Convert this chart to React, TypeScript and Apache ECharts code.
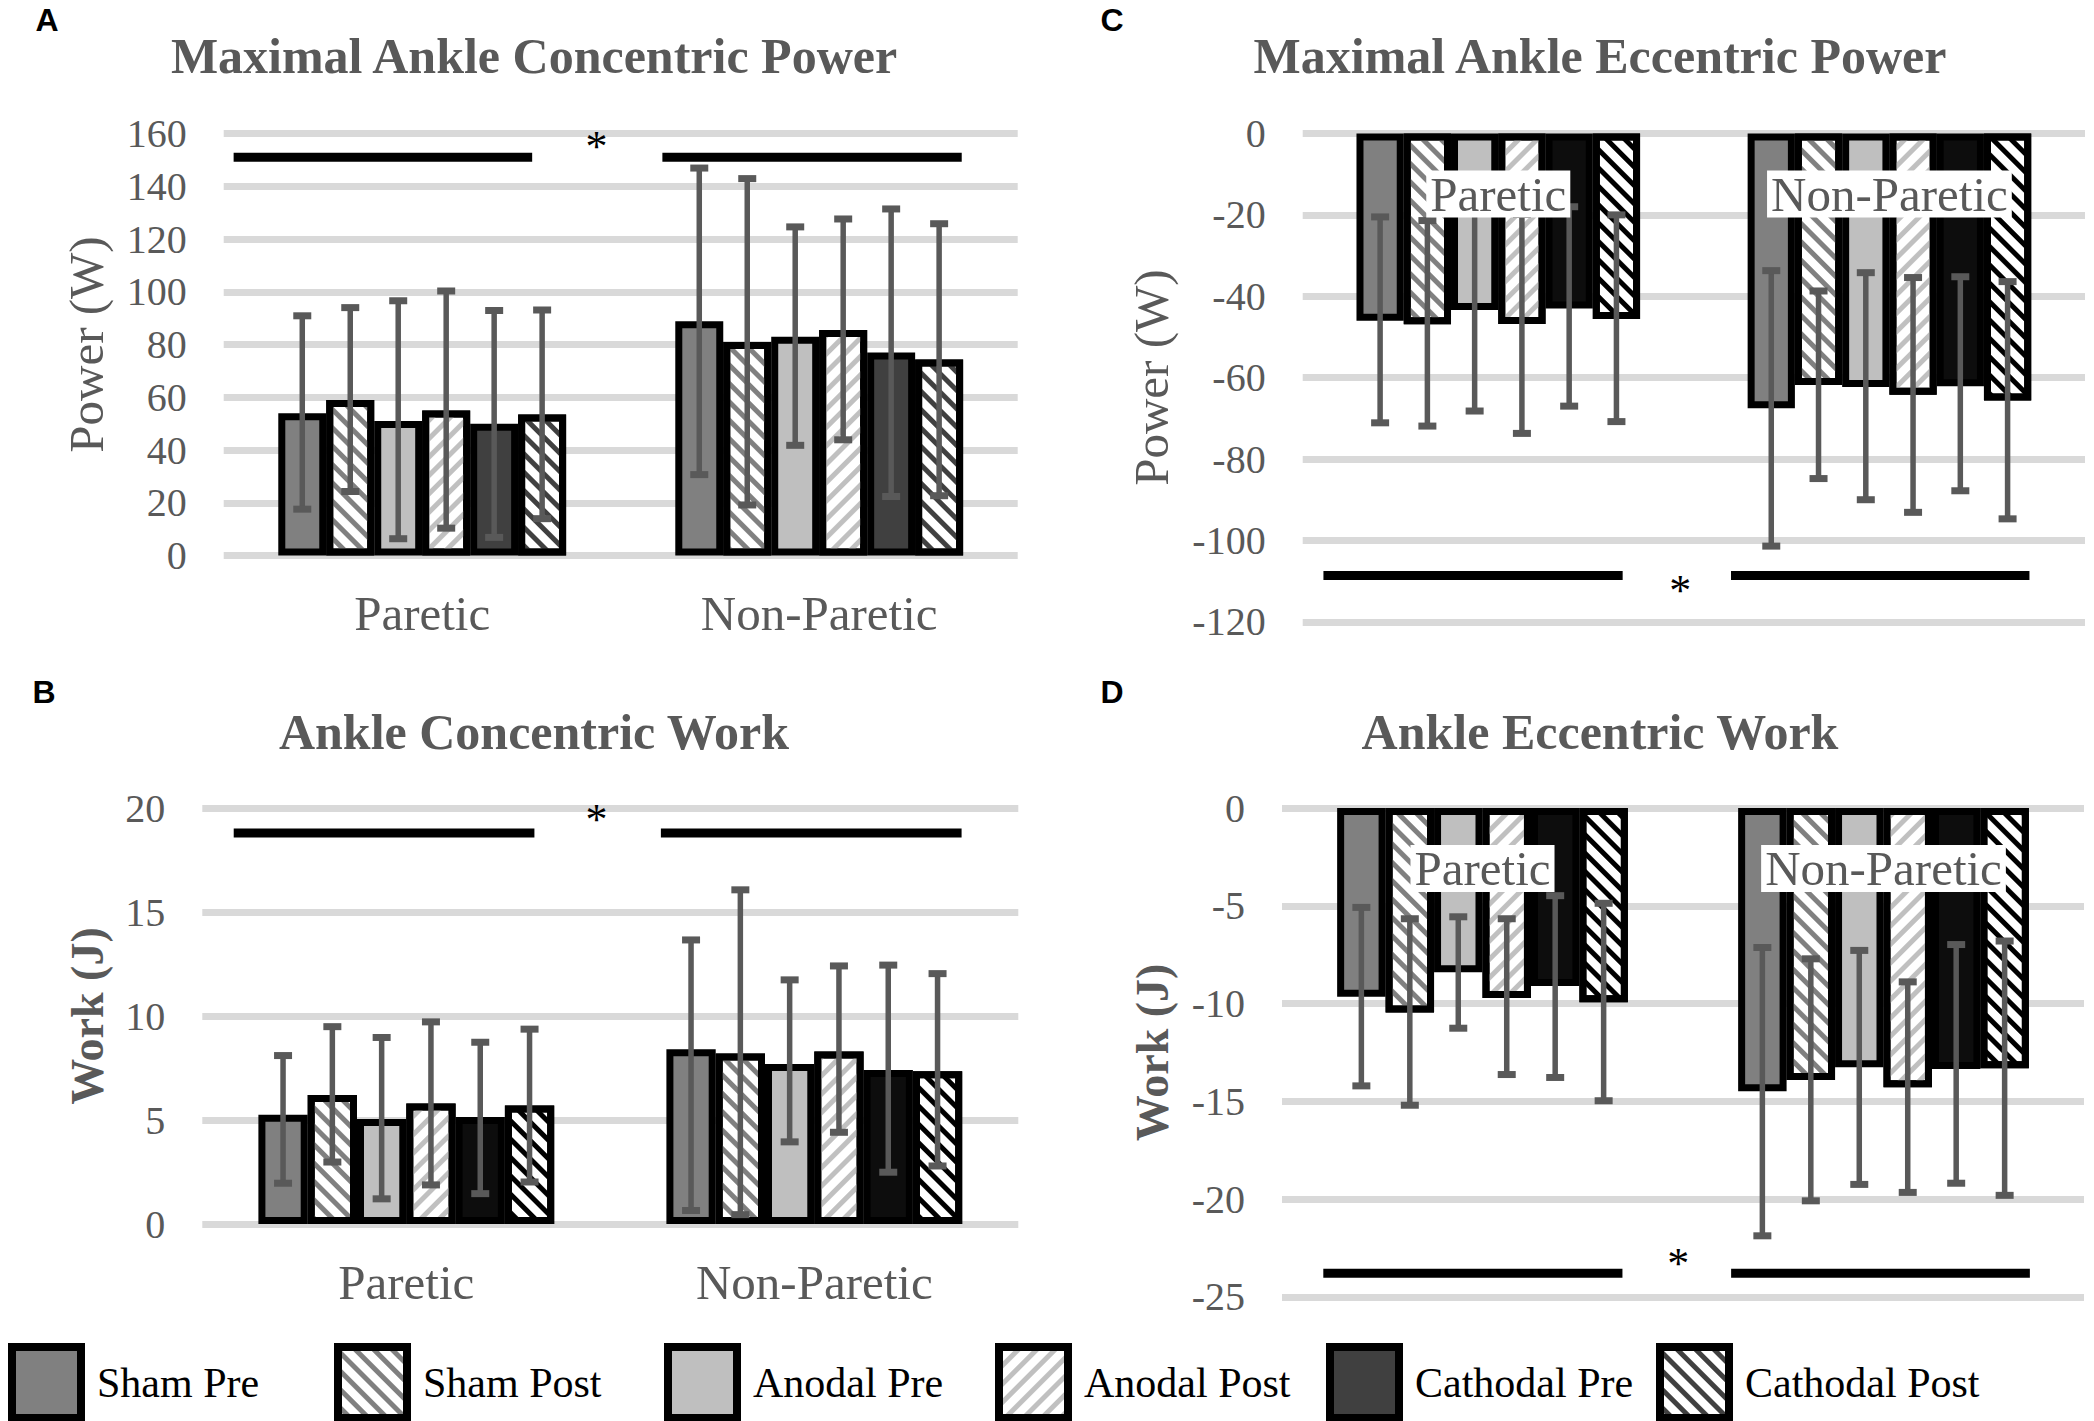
import React, { useEffect, useRef } from 'react';
import * as echarts from 'echarts';

const SERIF = '"Liberation Serif", "Times New Roman", serif';
const SANS = '"Liberation Sans", Arial, sans-serif';

const categories = ['Paretic', 'Non-Paretic'];
const seriesNames = ['Sham Pre', 'Sham Post', 'Anodal Pre', 'Anodal Post', 'Cathodal Pre', 'Cathodal Post'];

// Panel A: Maximal Ankle Concentric Power (W) — rows follow seriesNames, columns follow categories
const concPowerMean = [[54, 88.8], [59, 81], [51, 83], [55, 85.5], [50, 77], [53.5, 74.3]];
const concPowerLow = [[17.6, 30.7], [24.3, 19.2], [6.4, 41.8], [10.4, 43.9], [6.9, 22.4], [14, 22.7]];
const concPowerHigh = [[90.9, 146.9], [94, 142.9], [96.6, 124.6], [100.3, 127.6], [92.9, 131.4], [93.1, 125.8]];
const concPowerAxis = [0, 160, 20];
const concPowerSig = [[0.025, 0.777, 151], [1.105, 1.859, 151]];
const concPowerStar = [0.939, 158];

// Panel B: Ankle Concentric Work (J)
const concWorkMean = [[5.25, 8.4], [6.2, 8.2], [5.05, 7.7], [5.8, 8.3], [5.15, 7.4], [5.7, 7.35]];
const concWorkLow = [[1.96, 0.65], [2.98, 0.45], [1.21, 3.95], [1.88, 4.41], [1.46, 2.49], [2.02, 2.79]];
const concWorkHigh = [[8.1, 13.66], [9.49, 16.07], [8.97, 11.74], [9.72, 12.41], [8.74, 12.45], [9.37, 12.04]];
const concWorkAxis = [0, 20, 5];
const concWorkSig = [[0.077, 0.814, 18.8], [1.124, 1.861, 18.8]];
const concWorkStar = [0.966, 19.84];

// Panel C: Maximal Ankle Eccentric Power (W)
const eccPowerMean = [[-46, -67.5], [-46.9, -61.8], [-43.4, -62.3], [-46.8, -64.2], [-43, -62.1], [-45.6, -65.6]];
const eccPowerLow = [[-71.1, -101.4], [-71.9, -84.8], [-68.2, -90], [-73.7, -93.1], [-67, -87.8], [-70.8, -94.7]];
const eccPowerHigh = [[-20.5, -33.7], [-21.4, -38.7], [-18.6, -34.2], [-19.9, -35.4], [-18, -35.2], [-20, -36.4]];
const eccPowerAxis = [-120, 0, 20];
const eccPowerSig = [[0.053, 0.818, -108.6], [1.095, 1.858, -108.6]];
const eccPowerStar = [0.965, -110.3];

// Panel D: Ankle Eccentric Work (J)
const eccWorkMean = [[-9.65, -14.49], [-10.46, -13.91], [-8.4, -13.26], [-9.71, -14.28], [-9.1, -13.35], [-9.93, -13.31]];
const eccWorkLow = [[-14.21, -21.88], [-15.2, -20.09], [-11.26, -19.25], [-13.63, -19.66], [-13.78, -19.19], [-14.97, -19.81]];
const eccWorkHigh = [[-5.08, -7.13], [-5.66, -7.71], [-5.56, -7.28], [-5.66, -8.89], [-4.48, -6.98], [-4.87, -6.8]];
const eccWorkAxis = [-25, 0, 5];
const eccWorkSig = [[0.103, 0.849, -23.8], [1.12, 1.865, -23.8]];
const eccWorkStar = [0.988, -22.9];

const CAT_GAP = 0.275;

const panels = [
  {
    letter: 'A', title: 'Maximal Ankle Concentric Power', yName: 'Power (W)', yNameBold: false,
    mean: concPowerMean, low: concPowerLow, high: concPowerHigh, axis: concPowerAxis, sig: concPowerSig, star: concPowerStar,
    grid: { left: 223.7, top: 133.5, width: 794, height: 422.1 }, nameGap: 112, top: false, dark: '#404040',
    letterPos: [47, 20], titlePos: [534, 56],
  },
  {
    letter: 'B', title: 'Ankle Concentric Work', yName: 'Work (J)', yNameBold: true,
    mean: concWorkMean, low: concWorkLow, high: concWorkHigh, axis: concWorkAxis, sig: concWorkSig, star: concWorkStar,
    grid: { left: 202.3, top: 808.1, width: 816, height: 415.9 }, nameGap: 90, top: false, dark: '#0d0d0d',
    letterPos: [44, 692], titlePos: [534, 732],
  },
  {
    letter: 'C', title: 'Maximal Ankle Eccentric Power', yName: 'Power (W)', yNameBold: false,
    mean: eccPowerMean, low: eccPowerLow, high: eccPowerHigh, axis: eccPowerAxis, sig: eccPowerSig, star: eccPowerStar,
    grid: { left: 1302.7, top: 133.5, width: 782.3, height: 488.3 }, nameGap: 126, top: true, dark: '#0d0d0d',
    letterPos: [1112, 20], titlePos: [1600, 56],
  },
  {
    letter: 'D', title: 'Ankle Eccentric Work', yName: 'Work (J)', yNameBold: true,
    mean: eccWorkMean, low: eccWorkLow, high: eccWorkHigh, axis: eccWorkAxis, sig: eccWorkSig, star: eccWorkStar,
    grid: { left: 1282, top: 808.1, width: 802, height: 488.7 }, nameGap: 105, top: true, dark: '#0d0d0d',
    letterPos: [1112, 692], titlePos: [1600, 732],
  },
];

const stripe = (color: string, dir: number) => ({
  symbol: 'rect',
  symbolSize: 1,
  dashArrayX: [1, 0],
  dashArrayY: [5, 8],
  rotation: (dir * Math.PI) / 4,
  color,
});

const itemStyleFor = (i: number, dark: string, stripeDark: string) => {
  const base = { borderColor: '#000', borderWidth: 7 };
  switch (i) {
    case 0: return { ...base, color: '#808080' };
    case 1: return { ...base, color: '#ffffff', decal: stripe('#808080', 1) };
    case 2: return { ...base, color: '#bfbfbf' };
    case 3: return { ...base, color: '#ffffff', decal: stripe('#c0c0c0', -1) };
    case 4: return { ...base, color: dark };
    default: return { ...base, color: '#ffffff', decal: stripe(stripeDark, 1) };
  }
};

const errorRender = (params: any, api: any) => {
  const cat = api.value(0);
  const si = api.value(1);
  const lo = api.coord([cat, api.value(2)]);
  const hi = api.coord([cat, api.value(3)]);
  const band = api.size([1, 0])[0];
  const bw = (band * (1 - CAT_GAP)) / 6;
  const x = lo[0] + (si - 2.5) * bw;
  const cap = 9;
  const col = '#595959';
  return {
    type: 'group',
    children: [
      { type: 'line', shape: { x1: x, y1: lo[1], x2: x, y2: hi[1] }, style: { stroke: col, lineWidth: 5.5 } },
      { type: 'line', shape: { x1: x - cap, y1: lo[1], x2: x + cap, y2: lo[1] }, style: { stroke: col, lineWidth: 7 } },
      { type: 'line', shape: { x1: x - cap, y1: hi[1], x2: x + cap, y2: hi[1] }, style: { stroke: col, lineWidth: 7 } },
    ],
  };
};

const sigRender = (params: any, api: any) => {
  const a = api.coord([api.value(0), api.value(2)]);
  const b = api.coord([api.value(1), api.value(2)]);
  return { type: 'line', shape: { x1: a[0], y1: a[1], x2: b[0], y2: b[1] }, style: { stroke: '#000', lineWidth: 9 } };
};

const starRender = (params: any, api: any) => {
  const p = api.coord([api.value(0), api.value(1)]);
  return {
    type: 'text',
    x: p[0],
    y: p[1] + 8,
    style: { text: '*', fill: '#000', font: `44px ${SERIF}`, textAlign: 'center', textVerticalAlign: 'middle' },
  };
};

const legendLefts = [8, 334, 664, 995, 1326, 1656];

function buildOption() {
  const grid: any[] = [];
  const xAxis: any[] = [];
  const yAxis: any[] = [];
  const series: any[] = [];
  const graphic: any[] = [];

  panels.forEach((p, pi) => {
    grid.push({ ...p.grid, containLabel: false });
    xAxis.push({
      type: 'category',
      gridIndex: pi,
      data: categories,
      position: p.top ? 'top' : 'bottom',
      z: p.top ? 20 : 0,
      axisLine: { show: false, onZero: false },
      axisTick: { show: false },
      splitLine: { show: false },
      axisLabel: p.top
        ? { inside: true, margin: 37, fontFamily: SERIF, fontSize: 49, lineHeight: 47, color: '#595959', backgroundColor: '#ffffff', padding: [0, 4, 0, 4] }
        : { margin: 33, fontFamily: SERIF, fontSize: 49, lineHeight: 50, color: '#595959' },
    });
    xAxis.push({ type: 'value', gridIndex: pi, min: 0, max: 2, show: false });
    yAxis.push({
      type: 'value',
      gridIndex: pi,
      min: p.axis[0],
      max: p.axis[1],
      interval: p.axis[2],
      axisLine: { show: false },
      axisTick: { show: false },
      splitLine: { lineStyle: { color: '#d9d9d9', width: 7 } },
      axisLabel: { fontFamily: SERIF, fontSize: 40, color: '#595959', margin: 37 },
      name: p.yName,
      nameLocation: 'middle',
      nameGap: p.nameGap,
      nameTextStyle: { fontFamily: SERIF, fontSize: p.yNameBold ? 46 : 49, fontWeight: p.yNameBold ? 'bold' : 'normal', color: '#595959', lineHeight: 50 },
    });
    const stripeDark = pi === 0 ? '#404040' : '#000000';
    seriesNames.forEach((name, si) => {
      series.push({
        type: 'bar',
        name,
        xAxisIndex: pi * 2,
        yAxisIndex: pi,
        data: p.mean[si],
        barGap: '0%',
        barCategoryGap: `${CAT_GAP * 100}%`,
        itemStyle: itemStyleFor(si, p.dark, stripeDark),
        emphasis: { disabled: true },
        silent: true,
        z: 2,
      });
    });
    const errData: number[][] = [];
    seriesNames.forEach((_, si) => {
      categories.forEach((__, ci) => {
        errData.push([ci, si, p.low[si][ci], p.high[si][ci]]);
      });
    });
    series.push({
      type: 'custom',
      xAxisIndex: pi * 2,
      yAxisIndex: pi,
      data: errData,
      encode: { x: 0, y: [2, 3] },
      renderItem: errorRender,
      silent: true,
      z: 5,
    });
    series.push({
      type: 'custom',
      xAxisIndex: pi * 2 + 1,
      yAxisIndex: pi,
      data: p.sig,
      encode: { x: [0, 1], y: 2 },
      renderItem: sigRender,
      silent: true,
      z: 6,
    });
    series.push({
      type: 'custom',
      xAxisIndex: pi * 2 + 1,
      yAxisIndex: pi,
      data: [p.star],
      encode: { x: 0, y: 1 },
      renderItem: starRender,
      silent: true,
      z: 6,
    });
    graphic.push({
      type: 'text',
      x: p.letterPos[0],
      y: p.letterPos[1],
      style: { text: p.letter, fill: '#000', font: `bold 32px ${SANS}`, textAlign: 'center', textVerticalAlign: 'middle' },
    });
    graphic.push({
      type: 'text',
      x: p.titlePos[0],
      y: p.titlePos[1],
      style: { text: p.title, fill: '#595959', font: `bold 50px ${SERIF}`, textAlign: 'center', textVerticalAlign: 'middle' },
    });
  });

  const legend = seriesNames.map((n, i) => ({
    data: [n],
    left: legendLefts[i],
    top: 1343,
    padding: 0,
    itemWidth: 69,
    itemHeight: 71,
    icon: 'rect',
    selectedMode: false,
    itemStyle: { borderColor: '#000', borderWidth: 8 },
    textStyle: { fontFamily: SERIF, fontSize: 42, color: '#000', padding: [0, 0, 0, 11] },
  }));

  return {
    animation: false,
    backgroundColor: '#ffffff',
    grid,
    xAxis,
    yAxis,
    series,
    legend,
    graphic,
  };
}

export default function App() {
  const ref = useRef<HTMLDivElement>(null);
  useEffect(() => {
    document.body.style.margin = '0';
    document.body.style.overflow = 'hidden';
    if (!ref.current) return;
    const chart = echarts.init(ref.current, undefined, { renderer: 'svg' });
    chart.setOption(buildOption() as any);
    return () => chart.dispose();
  }, []);
  return <div ref={ref} style={{ width: 2094, height: 1421 }} />;
}
